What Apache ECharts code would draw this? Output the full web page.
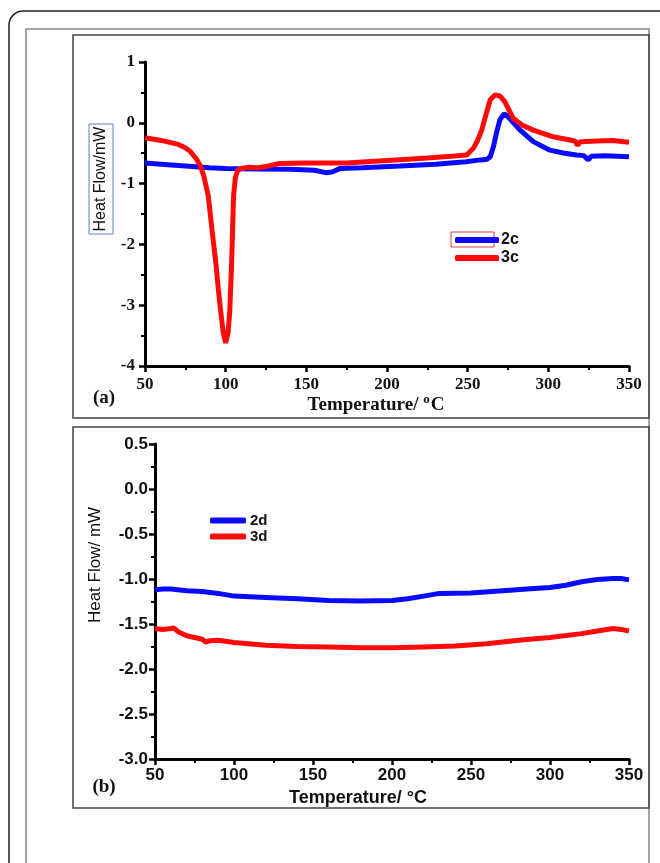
<!DOCTYPE html>
<html>
<head>
<meta charset="utf-8">
<script src="https://cdn.jsdelivr.net/npm/echarts@6/dist/echarts.min.js"></script>
<style>
  html, body { margin: 0; padding: 0; background: #fff; }
  #chart { width: 660px; height: 863px; }
</style>
</head>
<body>
<div id="chart"></div>
<script>
// (a) 2c / 3c
var temp2c = [50, 60, 75, 90, 100, 120, 140, 155, 162, 166, 171, 185, 208, 230, 249, 258, 262, 264, 266, 268, 270, 272.6, 275, 282.5, 290.7, 301, 310, 317.6, 322, 324.8, 326.5, 335, 350];
var flow2c = [-0.66, -0.68, -0.71, -0.74, -0.75, -0.76, -0.765, -0.78, -0.82, -0.81, -0.75, -0.74, -0.71, -0.68, -0.64, -0.61, -0.6, -0.56, -0.39, -0.15, 0.05, 0.15, 0.1, -0.12, -0.31, -0.45, -0.5, -0.53, -0.54, -0.61, -0.55, -0.54, -0.56];
var temp3c = [50, 60, 70, 75, 78, 82, 84.5, 86.5, 89.2, 91.5, 93.9, 95.5, 97, 98.5, 100, 101.5, 102.5, 103.7, 104.9, 106, 107.5, 110, 114, 120, 125, 133, 150, 175, 200, 225, 240, 249.4, 253.5, 256, 258.7, 261.5, 264, 267, 270, 273, 278.3, 284, 290.7, 303, 316.6, 318, 320, 330, 340, 350];
var flow3c = [-0.245, -0.29, -0.35, -0.41, -0.47, -0.6, -0.72, -0.88, -1.2, -1.75, -2.3, -2.75, -3.12, -3.45, -3.62, -3.45, -3.12, -2.3, -1.2, -0.9, -0.78, -0.75, -0.73, -0.74, -0.72, -0.67, -0.66, -0.66, -0.62, -0.58, -0.55, -0.53, -0.42, -0.3, -0.12, 0.15, 0.38, 0.46, 0.44, 0.35, 0.07, -0.04, -0.12, -0.23, -0.3, -0.37, -0.31, -0.3, -0.29, -0.32];

// (b) 2d / 3d
var temp2d = [50, 55, 60, 70, 80, 90, 100, 120, 140, 160, 180, 200, 210, 220, 230, 250, 270, 290, 300, 310, 320, 330, 340, 345, 350];
var flow2d = [-1.12, -1.11, -1.11, -1.13, -1.14, -1.16, -1.19, -1.205, -1.22, -1.24, -1.245, -1.24, -1.22, -1.19, -1.16, -1.155, -1.13, -1.105, -1.095, -1.07, -1.03, -1.005, -0.995, -0.995, -1.01];
var temp3d = [50, 55, 60, 62, 65, 70, 75, 80, 82, 85, 90, 100, 120, 140, 160, 180, 200, 220, 240, 260, 280, 300, 320, 330, 340, 345, 350];
var flow3d = [-1.55, -1.56, -1.55, -1.545, -1.59, -1.63, -1.65, -1.67, -1.7, -1.685, -1.68, -1.705, -1.735, -1.75, -1.755, -1.765, -1.765, -1.755, -1.745, -1.72, -1.68, -1.65, -1.607, -1.577, -1.55, -1.56, -1.577];

var serif = "'Liberation Serif', 'Times New Roman', serif";
var sans = "'Liberation Sans', Arial, sans-serif";
var blue = "#0a0aff";
var red = "#ff0a0a";

function pairs(t, v) {
  return t.map(function (x, i) { return [x, v[i]]; });
}

function xAxisCfg(idx, font, margin) {
  return {
    gridIndex: idx,
    type: "value",
    min: 50,
    max: 350,
    interval: 50,
    axisLine: { show: true, onZero: false, lineStyle: { color: "#000", width: 3 } },
    axisTick: { show: true, length: 6, lineStyle: { color: "#000", width: 2.5 } },
    minorTick: { show: true, splitNumber: 2, length: 4, lineStyle: { color: "#000", width: 2 } },
    splitLine: { show: false },
    axisLabel: { color: "#111", fontWeight: "bold", fontFamily: font, fontSize: 17, margin: margin }
  };
}

var chart = echarts.init(document.getElementById("chart"));

var option = {
  animation: false,
  backgroundColor: "#fff",
  grid: [
    { left: 145, top: 62, width: 484, height: 304 },
    { left: 155, top: 444, width: 474, height: 315 }
  ],
  xAxis: [xAxisCfg(0, serif, 10), xAxisCfg(1, sans, 8)],
  yAxis: [
    {
      gridIndex: 0,
      type: "value",
      min: -4,
      max: 1,
      interval: 1,
      axisLine: { show: true, onZero: false, lineStyle: { color: "#000", width: 3 } },
      axisTick: { show: true, length: 6, lineStyle: { color: "#000", width: 2.5 } },
      minorTick: { show: true, splitNumber: 2, length: 4, lineStyle: { color: "#000", width: 2 } },
      splitLine: { show: false },
      axisLabel: { color: "#111", fontWeight: "bold", fontFamily: serif, fontSize: 17, margin: 10 }
    },
    {
      gridIndex: 1,
      type: "value",
      min: -3,
      max: 0.5,
      interval: 0.5,
      axisLine: { show: true, onZero: false, lineStyle: { color: "#000", width: 3 } },
      axisTick: { show: true, length: 6, lineStyle: { color: "#000", width: 2.5 } },
      minorTick: { show: true, splitNumber: 2, length: 4, lineStyle: { color: "#000", width: 2 } },
      splitLine: { show: false },
      axisLabel: {
        color: "#111", fontWeight: "bold", fontFamily: sans, fontSize: 17, margin: 7,
        formatter: function (v) { return v.toFixed(1); }
      }
    }
  ],
  legend: [
    {
      data: ["2c", "3c"],
      orient: "vertical",
      left: 450,
      top: 227,
      icon: "roundRect",
      itemWidth: 44,
      itemHeight: 6,
      itemGap: 2,
      textStyle: { color: "#111", fontWeight: "bold", fontFamily: sans, fontSize: 16, lineHeight: 16, padding: [0, 0, 0, -3] }
    },
    {
      data: ["2d", "3d"],
      orient: "vertical",
      left: 205,
      top: 508,
      icon: "roundRect",
      itemWidth: 36,
      itemHeight: 6,
      itemGap: 1,
      textStyle: { color: "#111", fontWeight: "bold", fontFamily: sans, fontSize: 15, lineHeight: 14, padding: [0, 0, 0, -1] }
    }
  ],
  graphic: [
    // page frame
    { type: "rect", silent: true, shape: { x: 9, y: 11, width: 680, height: 880, r: 14 }, style: { fill: "none", stroke: "#222", lineWidth: 1.5 } },
    { type: "rect", silent: true, shape: { x: 26, y: 29, width: 623, height: 860 }, style: { fill: "none", stroke: "#888", lineWidth: 1.5 } },
    // panel boxes
    { type: "rect", silent: true, shape: { x: 73, y: 35, width: 576, height: 383 }, style: { fill: "none", stroke: "#444", lineWidth: 1.5 } },
    { type: "rect", silent: true, shape: { x: 73, y: 427, width: 576, height: 381 }, style: { fill: "none", stroke: "#444", lineWidth: 1.5 } },
    // boxes from the original figure
    { type: "rect", silent: true, shape: { x: 89, y: 124, width: 24, height: 110 }, style: { fill: "none", stroke: "#5b7fc7", lineWidth: 1 } },
    { type: "rect", silent: true, shape: { x: 451, y: 232, width: 43, height: 15 }, style: { fill: "none", stroke: "#d04040", lineWidth: 1 } },
    // axis titles
    { type: "text", silent: true, x: 101, y: 179, rotation: Math.PI / 2,
      style: { text: "Heat Flow/mW", font: "16px " + sans, fill: "#111", align: "center", verticalAlign: "middle" } },
    { type: "text", silent: true, x: 95, y: 565, rotation: Math.PI / 2,
      style: { text: "Heat Flow/ mW", font: "17px " + sans, fill: "#111", align: "center", verticalAlign: "middle" } },
    { type: "text", silent: true, x: 376, y: 405,
      style: {
        text: "Temperature/ {s|o}C", font: "bold 19px " + serif, fill: "#111", align: "center", verticalAlign: "middle",
        rich: { s: { font: "bold 13px " + serif, fill: "#111", padding: [0, 1, 10, 0] } }
      } },
    { type: "text", silent: true, x: 358, y: 798,
      style: { text: "Temperature/ \u00b0C", font: "bold 18px " + sans, fill: "#111", align: "center", verticalAlign: "middle" } },
    { type: "text", silent: true, x: 104, y: 398,
      style: { text: "(a)", font: "bold 19px " + serif, fill: "#111", align: "center", verticalAlign: "middle" } },
    { type: "text", silent: true, x: 104, y: 787,
      style: { text: "(b)", font: "bold 19px " + serif, fill: "#111", align: "center", verticalAlign: "middle" } }
  ],
  series: [
    {
      name: "2c", type: "line", xAxisIndex: 0, yAxisIndex: 0,
      symbol: "none", showSymbol: false, color: blue,
      lineStyle: { color: blue, width: 5 },
      data: pairs(temp2c, flow2c)
    },
    {
      name: "3c", type: "line", xAxisIndex: 0, yAxisIndex: 0,
      symbol: "none", showSymbol: false, color: red,
      lineStyle: { color: red, width: 5 },
      data: pairs(temp3c, flow3c)
    },
    {
      name: "2d", type: "line", xAxisIndex: 1, yAxisIndex: 1,
      symbol: "none", showSymbol: false, color: blue,
      lineStyle: { color: blue, width: 5 },
      data: pairs(temp2d, flow2d)
    },
    {
      name: "3d", type: "line", xAxisIndex: 1, yAxisIndex: 1,
      symbol: "none", showSymbol: false, color: red,
      lineStyle: { color: red, width: 5 },
      data: pairs(temp3d, flow3d)
    }
  ]
};

chart.setOption(option);
</script>
</body>
</html>
